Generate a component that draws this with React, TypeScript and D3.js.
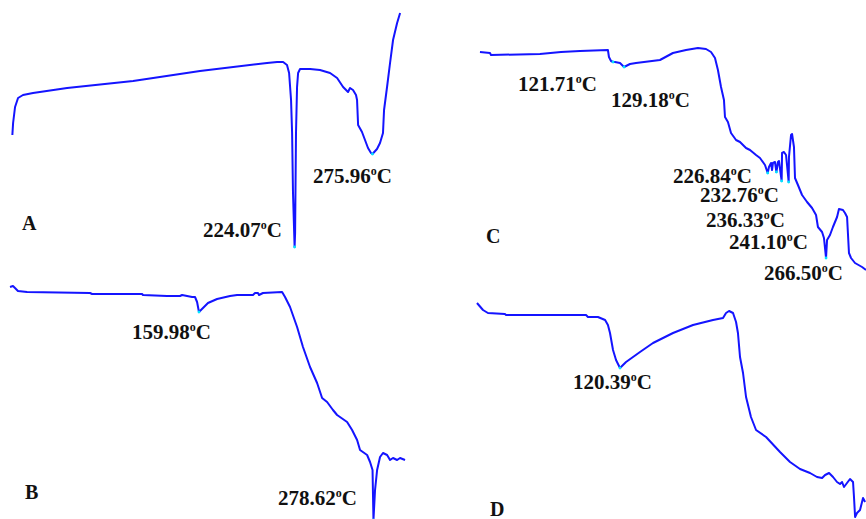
import React from "react";
import * as d3 from "d3";

// DSC traces: [temperature °C, heat flow (arbitrary units)]
type Pt = [number, number];

const traceA: Pt[] = [
  [35.9, 11.5], [36.4, 12.7], [37.7, 14.3], [39.7, 15.2], [43.0, 15.5], [49.7, 15.7],
  [72.4, 16.2], [116.4, 16.9], [161.0, 17.9], [205.7, 18.7], [212.4, 18.8], [216.4, 18.8],
  [219.0, 18.5], [220.4, 17.7], [221.7, 15.0], [222.4, 11.7], [223.0, 5.7], [224.07, 0.3],
  [224.4, 1.7], [225.0, 11.7], [225.7, 16.3], [226.4, 17.7], [227.7, 18.1], [234.4, 18.1],
  [241.0, 18.0], [247.7, 17.7], [252.4, 17.2], [256.4, 16.3], [259.7, 15.8], [261.0, 16.2],
  [263.0, 16.0], [265.0, 15.5], [265.7, 15.0], [266.4, 12.5], [269.0, 11.8], [271.0, 11.0],
  [273.0, 10.2], [275.0, 9.7], [275.96, 9.6], [279.0, 10.1], [281.0, 10.7], [283.0, 11.7],
  [283.7, 14.0], [285.7, 16.3], [287.7, 18.7], [289.7, 21.0], [292.4, 22.7], [294.4, 23.7],
];

const traceB: Pt[] = [
  [31.5, 23.3], [33.5, 23.4], [34.9, 23.2], [36.9, 22.9], [43.1, 22.8], [85.9, 22.7],
  [87.3, 22.6], [121.3, 22.6], [121.9, 22.5], [138.3, 22.4], [147.1, 22.4], [148.5, 22.5],
  [151.9, 22.4], [155.3, 22.3], [157.3, 22.3], [158.7, 21.8], [159.98, 20.8], [162.7, 21.2],
  [166.1, 21.7], [172.3, 22.1], [181.1, 22.4], [185.9, 22.5], [196.7, 22.5], [198.1, 22.7],
  [200.1, 22.7], [200.8, 22.5], [203.5, 22.7], [216.5, 22.8], [218.5, 22.3], [221.9, 21.3],
  [226.7, 19.3], [230.7, 17.3], [235.5, 15.3], [240.3, 13.7], [243.7, 12.2], [247.1, 11.8],
  [251.1, 11.0], [253.9, 10.5], [260.7, 9.8], [264.1, 9.0], [267.5, 8.0], [269.5, 7.0],
  [274.3, 6.5], [276.3, 5.8], [278.0, 5.0], [278.62, 0.0], [279.7, 3.0], [281.1, 5.0],
  [283.1, 6.3], [285.1, 6.7], [287.9, 6.5], [289.9, 6.0], [291.9, 6.2], [294.7, 6.0],
  [296.7, 6.2], [300.1, 6.0],
];

const traceC: Pt[] = [
  [31.2, 24.8], [38.0, 24.7], [38.7, 24.5], [72.0, 24.6], [86.3, 24.8], [99.2, 24.9],
  [118.2, 25.0], [118.9, 24.3], [120.3, 23.9], [121.71, 23.8], [123.0, 23.8], [126.4, 23.7],
  [129.18, 23.3], [133.2, 23.6], [137.3, 23.7], [153.6, 24.0], [162.4, 24.7], [171.3, 25.0],
  [179.4, 25.2], [184.9, 25.1], [188.3, 24.8], [191.0, 24.2], [193.0, 23.0], [195.1, 21.3],
  [197.1, 20.0], [197.8, 18.3], [199.8, 17.8], [201.9, 16.7], [205.3, 16.0], [208.0, 15.8],
  [212.1, 15.2], [214.8, 15.0], [218.9, 14.5], [221.6, 14.2], [225.0, 13.5], [226.84, 12.7],
  [227.7, 13.3], [229.1, 13.7], [229.8, 13.0], [230.4, 13.7], [231.8, 13.8], [232.76, 12.8],
  [233.8, 13.8], [234.5, 13.9], [236.33, 11.9], [236.6, 14.7], [237.9, 14.8], [239.3, 14.5],
  [241.1, 11.8], [241.3, 14.3], [242.7, 16.5], [243.4, 16.6], [244.7, 15.3], [245.4, 12.2],
  [247.4, 11.5], [250.2, 10.5], [253.6, 9.8], [257.0, 9.2], [259.7, 8.5], [261.0, 7.3],
  [263.8, 6.8], [265.1, 6.2], [266.5, 4.2], [267.2, 6.0], [269.2, 6.5], [271.2, 7.3],
  [274.0, 8.3], [275.3, 9.1], [278.0, 9.0], [279.4, 8.7], [280.8, 8.3], [282.1, 4.7],
  [283.5, 4.2], [286.2, 3.7], [291.0, 3.3], [293.7, 3.0],
];

const traceD: Pt[] = [
  [30.3, 21.7], [34.1, 21.0], [37.2, 20.7], [47.9, 20.6], [48.6, 20.5], [99.0, 20.5],
  [100.2, 20.3], [106.5, 20.3], [111.0, 20.0], [112.8, 19.5], [114.1, 18.7], [116.0, 17.0],
  [117.9, 16.0], [120.39, 15.2], [124.2, 15.8], [133.0, 16.8], [141.2, 17.7], [153.8, 18.7],
  [166.4, 19.5], [179.0, 20.0], [185.3, 20.2], [187.2, 20.7], [189.1, 20.9], [191.6, 20.7],
  [193.5, 19.8], [194.7, 18.7], [196.0, 16.3], [197.9, 14.7], [199.8, 12.3], [202.9, 10.3],
  [206.1, 9.0], [212.4, 8.3], [221.2, 6.8], [227.5, 5.8], [233.8, 5.1], [240.1, 4.7],
  [244.5, 4.3], [247.7, 4.2], [249.6, 4.5], [252.1, 4.7], [254.6, 4.3], [257.1, 3.8],
  [259.0, 3.6], [260.3, 3.8], [261.5, 3.3], [263.4, 3.7], [265.3, 4.1], [267.2, 3.8],
  [267.8, 2.3], [268.5, 0.3], [269.7, 0.7], [271.6, 1.0], [273.5, 2.2], [274.8, 1.8],
];

// labelled peak temperatures
const peaksA = [224.07, 275.96];
const peaksB = [159.98, 278.62];
const peaksC = [121.71, 129.18, 226.84, 232.76, 236.33, 241.1, 266.5];
const peaksD = [120.39];

interface Panel {
  name: string;
  data: Pt[];
  peaks: number[];
  xRange: [number, number];
  yRange: [number, number];
  letterPos: [number, number];
  labelPos: [number, number][];
}

const panels: Panel[] = [
  { name: "A", data: traceA, peaks: peaksA, xRange: [3.5, 408.5], yRange: [250, 0],
    letterPos: [22, 230], labelPos: [[203, 237], [313, 183]] },
  { name: "B", data: traceB, peaks: peaksB, xRange: [7.8, 404.9], yRange: [520, 270],
    letterPos: [25, 499], labelPos: [[132, 339], [278, 505]] },
  { name: "C", data: traceC, peaks: peaksC, xRange: [478.2, 875.3], yRange: [300, 50],
    letterPos: [486, 243],
    labelPos: [[518, 91], [611, 107], [673, 183], [700, 202], [706, 227], [729, 249], [764, 280]] },
  { name: "D", data: traceD, peaks: peaksD, xRange: [476.5, 905.1], yRange: [520, 270],
    letterPos: [490, 516], labelPos: [[573, 389]] },
];

const W = 866;
const H = 519;
const font = "'Liberation Serif', 'Times New Roman', serif";

const PanelTrace: React.FC<{ p: Panel }> = ({ p }) => {
  const x = d3.scaleLinear().domain([30, 300]).range(p.xRange);
  const y = d3.scaleLinear().domain([0, 25]).range(p.yRange);
  const line = d3.line<Pt>().x((d) => x(d[0])).y((d) => y(d[1]));
  return (
    <g>
      <path d={line(p.data) || ""} fill="none" stroke="#1414ff" strokeWidth={2} strokeLinejoin="round" />
      {p.peaks.map((t, i) => {
        const pt = p.data.reduce((a, b) => (Math.abs(b[0] - t) < Math.abs(a[0] - t) ? b : a));
        return <circle key={"m" + i} cx={x(pt[0])} cy={y(pt[1])} r={1.4} fill="#00e5ff" />;
      })}
      <text x={p.letterPos[0]} y={p.letterPos[1]} fontFamily={font} fontWeight="bold" fontSize={20} fill="#111">
        {p.name}
      </text>
      {p.peaks.map((t, i) => (
        <text key={"l" + i} x={p.labelPos[i][0]} y={p.labelPos[i][1]} fontFamily={font}
          fontWeight="bold" fontSize={21} fill="#111">
          {t.toFixed(2)}
          <tspan fontSize={12} dy={-8}>o</tspan>
          <tspan dy={8}>C</tspan>
        </text>
      ))}
    </g>
  );
};

export default function App() {
  return (
    <svg width={W} height={H} style={{ position: "absolute", left: 0, top: 0, background: "#fff" }}>
      <rect width={W} height={H} fill="#fff" />
      {panels.map((p) => (
        <PanelTrace key={p.name} p={p} />
      ))}
    </svg>
  );
}
